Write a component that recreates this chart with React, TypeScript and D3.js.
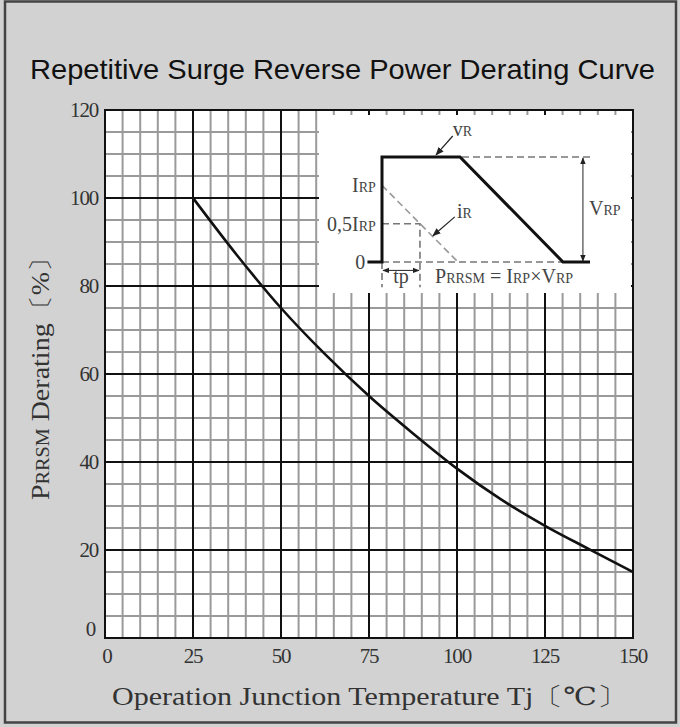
import React from 'react';
import * as d3 from 'd3';

// derating curve
const tempC = [25, 37.5, 50, 62.5, 75, 87.5, 100, 112.5, 125, 137.5, 150];
const derating = [100, 87, 75, 64.5, 55, 46.5, 38.5, 31.5, 25.5, 20.2, 15];

const xTicks = [0, 25, 50, 75, 100, 125, 150];
const yTicks = [0, 20, 40, 60, 80, 100, 120];
const minorX = d3.range(0, 151, 5);
const minorY = d3.range(0, 121, 5);

// inset schematic, normalised units (t: 0..1, level: 0..1)
const vrWave: [number, number][] = [[-0.07, 0], [0, 0], [0, 1], [0.375, 1], [0.87, 0], [1, 0]];
const irWave: [number, number][] = [[0, 0.73], [0.365, 0]];
const halfLevel = 0.365;
const tpEnd = 0.1825;

const W = 680;
const H = 727;

export default function App() {
  const x = d3.scaleLinear().domain([0, 150]).range([105, 633]);
  const y = d3.scaleLinear().domain([0, 120]).range([638, 110]);

  const curve = d3
    .line<number>()
    .x((d, i) => x(tempC[i]))
    .y((d) => y(d))
    .curve(d3.curveMonotoneX);

  // inset scales
  const ix = d3.scaleLinear().domain([0, 1]).range([382, 590]);
  const iy = d3.scaleLinear().domain([0, 1]).range([262, 157]);
  const iline = d3
    .line<[number, number]>()
    .x((d) => ix(d[0]))
    .y((d) => iy(d[1]));

  const serif = "'Liberation Serif', 'DejaVu Serif', serif";
  const dash = { stroke: '#777', strokeWidth: 1.6, strokeDasharray: '7 4', fill: 'none' };

  return (
    <svg
      width={W}
      height={H}
      style={{ position: 'absolute', left: 0, top: 0 }}
      fontFamily={serif}
    >
      <defs>
        <marker id="ah" viewBox="0 0 10 10" refX="9" refY="5" markerWidth="7" markerHeight="7" orient="auto-start-reverse">
          <path d="M0,1 L10,5 L0,9 z" fill="#222" />
        </marker>
      </defs>
      <rect x={0} y={0} width={W} height={H} fill="#d2d2d2" />
      <rect x={5} y={1.5} width={671} height={721} fill="#d2d2d2" stroke="#444" strokeWidth={2.5} />

      <text
        x={30}
        y={79}
        fontFamily="'Liberation Sans Narrow', 'Liberation Sans', Arial, sans-serif"
        fontSize={28}
        fill="#111"
        textLength={625}
        lengthAdjust="spacingAndGlyphs"
      >
        Repetitive Surge Reverse Power Derating Curve
      </text>

      {/* plot area */}
      <rect x={x(0)} y={y(120)} width={x(150) - x(0)} height={y(0) - y(120)} fill="#fff" />
      {minorX.filter((v) => v % 25 !== 0).map((v) => (
        <line key={'mx' + v} x1={x(v)} x2={x(v)} y1={y(0)} y2={y(120)} stroke="#9a9a9a" strokeWidth={2} />
      ))}
      {minorY.filter((v) => v % 20 !== 0).map((v) => (
        <line key={'my' + v} x1={x(0)} x2={x(150)} y1={y(v)} y2={y(v)} stroke="#9a9a9a" strokeWidth={2} />
      ))}
      {xTicks.map((v) => (
        <line key={'gx' + v} x1={x(v)} x2={x(v)} y1={y(0)} y2={y(120)} stroke="#111" strokeWidth={2} />
      ))}
      {yTicks.map((v) => (
        <line key={'gy' + v} x1={x(0)} x2={x(150)} y1={y(v)} y2={y(v)} stroke="#111" strokeWidth={2} />
      ))}

      <path d={curve(derating) || ''} fill="none" stroke="#111" strokeWidth={2.6} />

      {/* inset */}
      <rect x={319} y={115} width={312} height={178} fill="#fff" />
      <path d={iline([[1, 1], [0.375, 1]]) || ''} {...dash} />
      <path d={iline([[0, 0], [1, 0]]) || ''} {...dash} />
      <path d={iline(irWave) || ''} {...dash} stroke="#999" />
      <path d={iline([[0, halfLevel], [tpEnd, halfLevel], [tpEnd, -0.24]]) || ''} {...dash} />
      <path d={iline([[0, 0], [0, -0.24]]) || ''} {...dash} />
      <path d={iline(vrWave) || ''} fill="none" stroke="#111" strokeWidth={3} />
      <line x1={ix(0) + 1} x2={ix(tpEnd) - 1} y1={iy(-0.08)} y2={iy(-0.08)} stroke="#222" strokeWidth={1} markerStart="url(#ah)" markerEnd="url(#ah)" />
      <line x1={ix(0.966)} x2={ix(0.966)} y1={iy(1) + 1} y2={iy(0) - 1} stroke="#222" strokeWidth={1} markerStart="url(#ah)" markerEnd="url(#ah)" />
      <line x1={ix(0.34)} x2={ix(0.26)} y1={iy(1.2)} y2={iy(1.02)} stroke="#222" strokeWidth={1.2} markerEnd="url(#ah)" />
      <line x1={ix(0.35)} x2={ix(0.245)} y1={iy(0.43)} y2={iy(0.25)} stroke="#222" strokeWidth={1.2} markerEnd="url(#ah)" />

      <g fill="#444" fontSize={20}>
        <text x={ix(0.34)} y={iy(1.2)}>
          v<tspan fontSize={14}>R</tspan>
        </text>
        <text x={ix(0.36)} y={iy(0.42)}>
          i<tspan fontSize={14}>R</tspan>
        </text>
        <text x={ix(-0.03)} y={iy(0.73) + 7} textAnchor="end">
          I<tspan fontSize={14}>RP</tspan>
        </text>
        <text x={ix(-0.03)} y={iy(halfLevel) + 7} textAnchor="end">
          0,5I<tspan fontSize={14}>RP</tspan>
        </text>
        <text x={ix(-0.08)} y={iy(0) + 7} textAnchor="end">0</text>
        <text x={ix(0.995)} y={iy(0.45)}>
          V<tspan fontSize={14}>RP</tspan>
        </text>
        <text x={ix(tpEnd / 2)} y={iy(-0.2)} textAnchor="middle">tp</text>
        <text x={ix(0.255)} y={iy(-0.2)}>
          P<tspan fontSize={14}>RRSM</tspan> = I<tspan fontSize={14}>RP</tspan>×V<tspan fontSize={14}>RP</tspan>
        </text>
      </g>

      <rect x={x(0)} y={y(120)} width={x(150) - x(0)} height={y(0) - y(120)} fill="none" stroke="#111" strokeWidth={2} />

      {/* tick labels */}
      <g fill="#333" fontSize={21} letterSpacing={-1.2}>
        {yTicks.map((v) => (
          <text key={'ty' + v} x={v === 0 ? 95 : 98} y={y(v) + (v === 0 ? -2 : 7)} textAnchor="end">
            {v}
          </text>
        ))}
        {xTicks.map((v) => (
          <text key={'tx' + v} x={x(v) + (v === 0 ? 2 : 0)} y={663} textAnchor="middle">
            {v}
          </text>
        ))}
      </g>

      <text x={112} y={705} fontSize={25} fill="#333" textLength={515} lengthAdjust="spacingAndGlyphs">
        Operation Junction Temperature  Tj〔℃〕
      </text>
      <text
        transform="translate(49,372) rotate(-90)"
        textAnchor="middle"
        fontSize={25}
        fill="#333"
        textLength={256}
        lengthAdjust="spacingAndGlyphs"
      >
        P<tspan fontSize={18}>RRSM</tspan> Derating〔%〕
      </text>
    </svg>
  );
}
